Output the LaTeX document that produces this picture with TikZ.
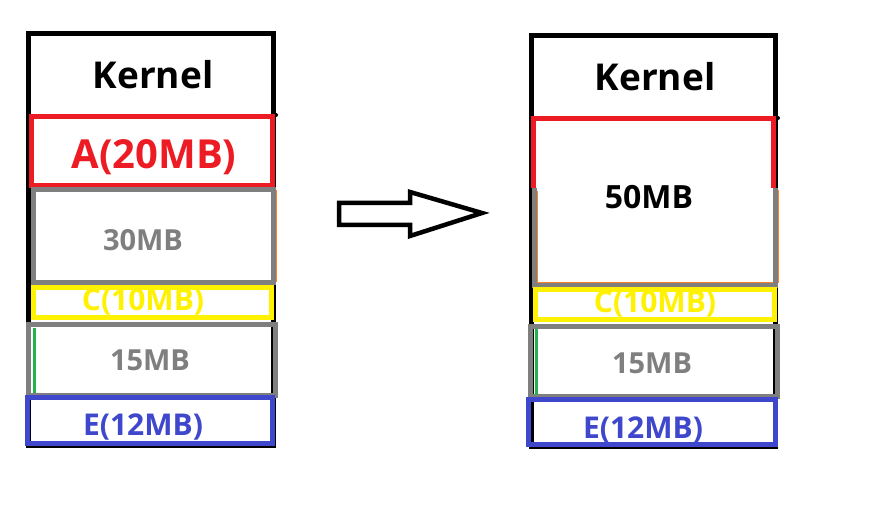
\documentclass[tikz,border=0pt]{standalone}
\usepackage{fontspec}
\setmainfont{Open Sans}
\definecolor{pred}{HTML}{ED1C24}
\definecolor{pyel}{HTML}{FFF200}
\definecolor{pgray}{HTML}{7F7F7F}
\definecolor{pblue}{HTML}{3F48CC}
\definecolor{pgreen}{HTML}{22B14C}
\definecolor{porange}{HTML}{FF7F27}
\tikzset{
  kern/.style={font=\fontsize{37}{40}\selectfont\bfseries, inner sep=0pt},
  big/.style={font=\fontsize{40}{44}\selectfont\bfseries, inner sep=0pt},
  mid/.style={font=\fontsize{29}{32}\selectfont\bfseries, inner sep=0pt},
  sml/.style={font=\fontsize{30}{33}\selectfont\bfseries, inner sep=0pt},
  lw/.style={line width=5pt},
}
\begin{document}
\begin{tikzpicture}[x=1pt,y=-1pt]
\useasboundingbox[fill=white] (0,0) rectangle (873,518);
% ---- left column ----
\draw[lw] (28.5,33.5) rectangle (273.5,446);
\fill (276,115) circle (2);
\draw[porange,line width=1pt] (35,191) rectangle (276,282);
\draw[pred,lw] (31.5,117) rectangle (272,185.5);
\draw[pgray,lw] (33.5,189.5) rectangle (273,283);
\draw[pyel,lw] (33.5,288) rectangle (271.5,318);
\draw[pgray,lw] (28.5,325) rectangle (275,395.5);
\draw[pgreen,line width=3pt] (34,328) -- (34,393);
\draw[pblue,lw] (27,397.5) rectangle (272.5,444);
\node[kern] (k1) at (153,75) {Kernel};
\node[big,text=pred] (a1) at (154,157) {A(20MB)};
\node[mid,text=pgray] (b1) at (143,240) {30MB};
\node[sml,text=pyel] (c1) at (143,302) {C(10MB)};
\node[mid,text=pgray] (d1) at (150,360) {15MB};
\node[sml,text=pblue] (e1) at (143,427) {E(12MB)};
% ---- arrow ----
\draw[line width=4.5pt,line join=miter] (339,203) -- (410,203) -- (410,192) -- (482,213) -- (410,236) -- (410,225) -- (339,225) -- cycle;
% ---- right column ----
\draw[lw] (531,36) rectangle (775.5,447);
\fill (778,118) circle (2);
\draw[porange,line width=1pt] (537,191) -- (537,283) -- (778,283) -- (778,190);
\draw[pred,lw] (533.5,188) -- (533.5,119) -- (773.5,119) -- (773.5,188);
\draw[pgray,lw] (534.5,188) -- (534.5,286) -- (775.5,286) -- (775.5,188);
\draw[pyel,lw] (535.5,290) rectangle (774,320);
\draw[pgray,lw] (530.5,327) rectangle (777,397);
\draw[pgreen,line width=3pt] (536,329) -- (536,395);
\draw[pblue,lw] (528.5,399.5) rectangle (775,444.5);
\node[kern] (k2) at (655,77) {Kernel};
\node[big,font=\fontsize{32}{35}\selectfont\bfseries] (b2) at (649,197) {50MB};
\node[sml,text=pyel] (c2) at (655,304) {C(10MB)};
\node[mid,text=pgray] (d2) at (652,363) {15MB};
\node[sml,text=pblue] (e2) at (643,430) {E(12MB)};
\end{tikzpicture}
\end{document}
